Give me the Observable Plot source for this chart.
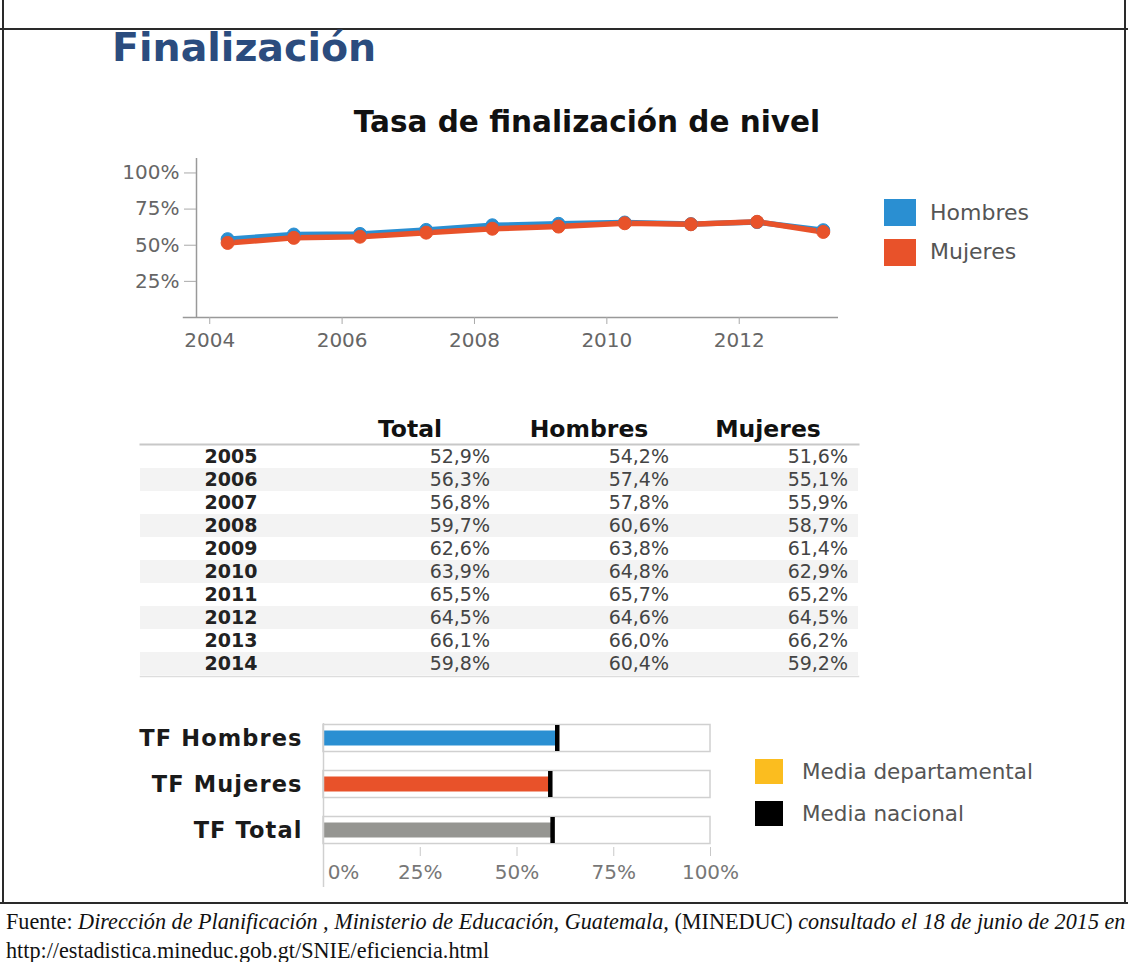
<!DOCTYPE html>
<html>
<head>
<meta charset="utf-8">
<script src="https://cdn.jsdelivr.net/npm/d3@7"></script>
<script src="https://cdn.jsdelivr.net/npm/@observablehq/plot@0.6"></script>
<style>
  html, body { margin: 0; padding: 0; background: #fff; }
  #page { position: relative; width: 1128px; height: 962px; overflow: hidden; background: #fff; font-family: "DejaVu Sans", sans-serif; }
  .abs { position: absolute; }
  .line { position: absolute; background: #2a2a2a; }
  .sq { position: absolute; }
  .lg { position: absolute; font-family: "DejaVu Sans", sans-serif; font-size: 21.5px; color: #555; line-height: 1; white-space: nowrap; }
  #footer { position: absolute; left: 6px; top: 907px; width: 1122px; font-family: "Liberation Serif", serif; font-size: 22.2px; line-height: 29px; color: #111; white-space: nowrap; }
  #bars [aria-label="y-axis tick label"] text { letter-spacing: 1.1px; }
</style>
</head>
<body>
<div id="page">
  <div class="line" style="left:0;top:28px;width:1128px;height:2px"></div>
  <div class="line" style="left:2px;top:0;width:2px;height:904px"></div>
  <div class="line" style="left:1124px;top:0;width:2px;height:904px"></div>
  <div class="line" style="left:0;top:902px;width:1128px;height:2px"></div>

  <div class="abs" id="title" style="left:112px;top:28px;font-size:39.5px;font-weight:bold;color:#2b4c7e;line-height:1;white-space:nowrap">Finalización</div>
  <div class="abs" id="subtitle" style="left:0;width:1174px;top:108px;text-align:center;font-size:29.5px;font-weight:bold;color:#111;line-height:1;white-space:nowrap">Tasa de finalización de nivel</div>

  <div class="abs" id="lineChart" style="left:0;top:140px"></div>
  <div class="sq" style="left:884px;top:199px;width:32px;height:27px;background:#2a8fd2"></div>
  <div class="sq" style="left:884px;top:239px;width:32px;height:27px;background:#e8522a"></div>
  <div class="lg" style="left:930px;top:202px;font-size:22px">Hombres</div>
  <div class="lg" style="left:930px;top:241px;font-size:22px">Mujeres</div>

  <div class="abs" id="table" style="left:0;top:400px"></div>

  <div class="abs" id="bars" style="left:0;top:700px"></div>
  <div class="sq" style="left:755px;top:759px;width:28px;height:25px;background:#fbbd1f"></div>
  <div class="sq" style="left:755px;top:801px;width:28px;height:25px;background:#000"></div>
  <div class="lg" style="left:802px;top:761px">Media departamental</div>
  <div class="lg" style="left:802px;top:803px">Media nacional</div>

  <div id="footer">Fuente: <i>Dirección de Planificación , Ministerio de Educación, Guatemala,</i> (MINEDUC) <i>consultado el 18 de junio de 2015 en</i><br>http://estadistica.mineduc.gob.gt/SNIE/eficiencia.html</div>
</div>
<script>
// ---- Data ----
const years = [2005, 2006, 2007, 2008, 2009, 2010, 2011, 2012, 2013, 2014];
const total = [52.9, 56.3, 56.8, 59.7, 62.6, 63.9, 65.5, 64.5, 66.1, 59.8];
const hombres = [54.2, 57.4, 57.8, 60.6, 63.8, 64.8, 65.7, 64.6, 66.0, 60.4];
const mujeres = [51.6, 55.1, 55.9, 58.7, 61.4, 62.9, 65.2, 64.5, 66.2, 59.2];
const series = ["Hombres", "Mujeres"];
const seriesColors = ["#2a8fd2", "#e8522a"];
const xTicks = [2004, 2006, 2008, 2010, 2012];
const yTicks = [25, 50, 75, 100];
const tableColumns = ["Año", "Total", "Hombres", "Mujeres"];
const tableHeaders = ["", "Total", "Hombres", "Mujeres"];
const barLabels = ["TF Hombres", "TF Mujeres", "TF Total"];
const barValues = [60.4, 58.6, 59.2];
const nationalMean = [60.4, 58.6, 59.2];
const barColors = ["#2a8fd2", "#e8522a", "#959591"];
const barTicks = [25, 50, 75, 100];
const barZeroTick = [0];

// the source chart draws each year's point about three quarters of a year early
const plotOffset = 0.73;

const lineData = [];
years.forEach((y, i) => {
  lineData.push({series: "Hombres", year: y, pos: y - plotOffset, value: hombres[i]});
});
years.forEach((y, i) => {
  lineData.push({series: "Mujeres", year: y, pos: y - plotOffset, value: mujeres[i]});
});

const lineChart = Plot.plot({
  width: 880, height: 240,
  marginLeft: 196, marginRight: 42, marginTop: 18, marginBottom: 63,
  style: {fontFamily: "DejaVu Sans", fontSize: "20px", background: "transparent"},
  x: {domain: [2003.8, 2013.5]},
  y: {domain: [0, 110]},
  color: {domain: series, range: seriesColors},
  marks: [
    Plot.ruleY([0], {x1: 2003.6, x2: 2013.5, stroke: "#999", strokeWidth: 1.5, clip: false}),
    Plot.ruleX([2003.8], {stroke: "#999", strokeWidth: 1.5}),
    Plot.axisY({ticks: yTicks, tickFormat: d => d + "%", tickSize: 12, tickPadding: 5, stroke: "#aaa", fill: "#666", fontSize: 20, label: null}),
    Plot.axisX({ticks: xTicks, tickFormat: d => String(d), tickSize: 7, tickPadding: 8, stroke: "#aaa", fill: "#666", fontSize: 20, label: null}),
    Plot.line(lineData, {x: "pos", y: "value", z: "series", stroke: "series", strokeWidth: 5.5}),
    Plot.dot(lineData, {x: "pos", y: "value", fill: "series", stroke: "series", r: 6.5, strokeWidth: 1})
  ]
});
document.getElementById("lineChart").append(lineChart);

// ---- Table ----
const fmt = v => v.toFixed(1).replace(".", ",") + "%";
const valueCells = [];
years.forEach((y, i) => {
  valueCells.push({year: y, col: "Total", value: total[i]});
  valueCells.push({year: y, col: "Hombres", value: hombres[i]});
  valueCells.push({year: y, col: "Mujeres", value: mujeres[i]});
});
const headerCells = tableColumns.map((c, i) => ({col: c, label: tableHeaders[i]}));

const table = Plot.plot({
  width: 880, height: 290,
  marginLeft: 140, marginRight: 22, marginTop: 44, marginBottom: 14,
  style: {fontFamily: "DejaVu Sans", background: "transparent"},
  x: {type: "band", domain: tableColumns, padding: 0, axis: null},
  y: {type: "band", domain: years, padding: 0, axis: null},
  marks: [
    Plot.cell(years.filter(y => y % 2 === 0), {y: d => d, fill: "#f3f3f3"}),
    Plot.frame({anchor: "top", stroke: "#c8c8c8", strokeWidth: 2}),
    Plot.frame({anchor: "bottom", stroke: "#dddddd", strokeWidth: 1.5}),
    Plot.text(years, {x: () => "Año", y: d => d, text: d => String(d), fontWeight: "bold", fontSize: 19, fill: "#222"}),
    Plot.text(valueCells, {x: "col", y: "year", text: d => fmt(d.value), textAnchor: "end", dx: 80, fontSize: 19, fill: "#444"}),
    Plot.text(headerCells, {x: "col", text: "label", frameAnchor: "top", dy: -24, fontWeight: "bold", fontSize: 23.5, fill: "#111"})
  ]
});
document.getElementById("table").append(table);

// ---- Bullet bars ----
const barData = barLabels.map((l, i) => ({label: l, value: barValues[i], mean: nationalMean[i], color: barColors[i]}));
const bars = Plot.plot({
  width: 760, height: 200,
  marginLeft: 323, marginRight: 50, marginTop: 14, marginBottom: 46,
  style: {fontFamily: "DejaVu Sans", background: "transparent"},
  x: {domain: [0, 100]},
  y: {type: "band", domain: barLabels, padding: 0},
  marks: [
    Plot.barX(barData, {x1: 0, x2: 100, y: "label", fill: "white", stroke: "#d0d0d0", strokeWidth: 1.5, insetTop: 9.5, insetBottom: 9.5}),
    Plot.barX(barData, {x1: 0, x2: "value", y: "label", fill: "color", insetTop: 15.5, insetBottom: 15.5}),
    Plot.tickX(barData, {x: "mean", y: "label", stroke: "#000", strokeWidth: 4.5, insetTop: 10, insetBottom: 10}),
    Plot.ruleX([0], {stroke: "#d0d0d0", strokeWidth: 1.5, insetTop: 9, insetBottom: -33}),
    Plot.axisY({tickSize: 0, tickPadding: 21, fontWeight: "bold", fontSize: 22.5, fill: "#1a1a1a", label: null}),
    Plot.axisX({ticks: barTicks, tickFormat: d => d + "%", tickSize: 9, tickPadding: 8, dy: -7, stroke: "#c8c8c8", fill: "#777", fontSize: 20, label: null}),
    Plot.axisX({ticks: barZeroTick, tickFormat: d => d + "%", tickSize: 0, tickPadding: 17, dy: -7, dx: 20, fill: "#777", fontSize: 20, label: null})
  ]
});
document.getElementById("bars").append(bars);
</script>
</body>
</html>
